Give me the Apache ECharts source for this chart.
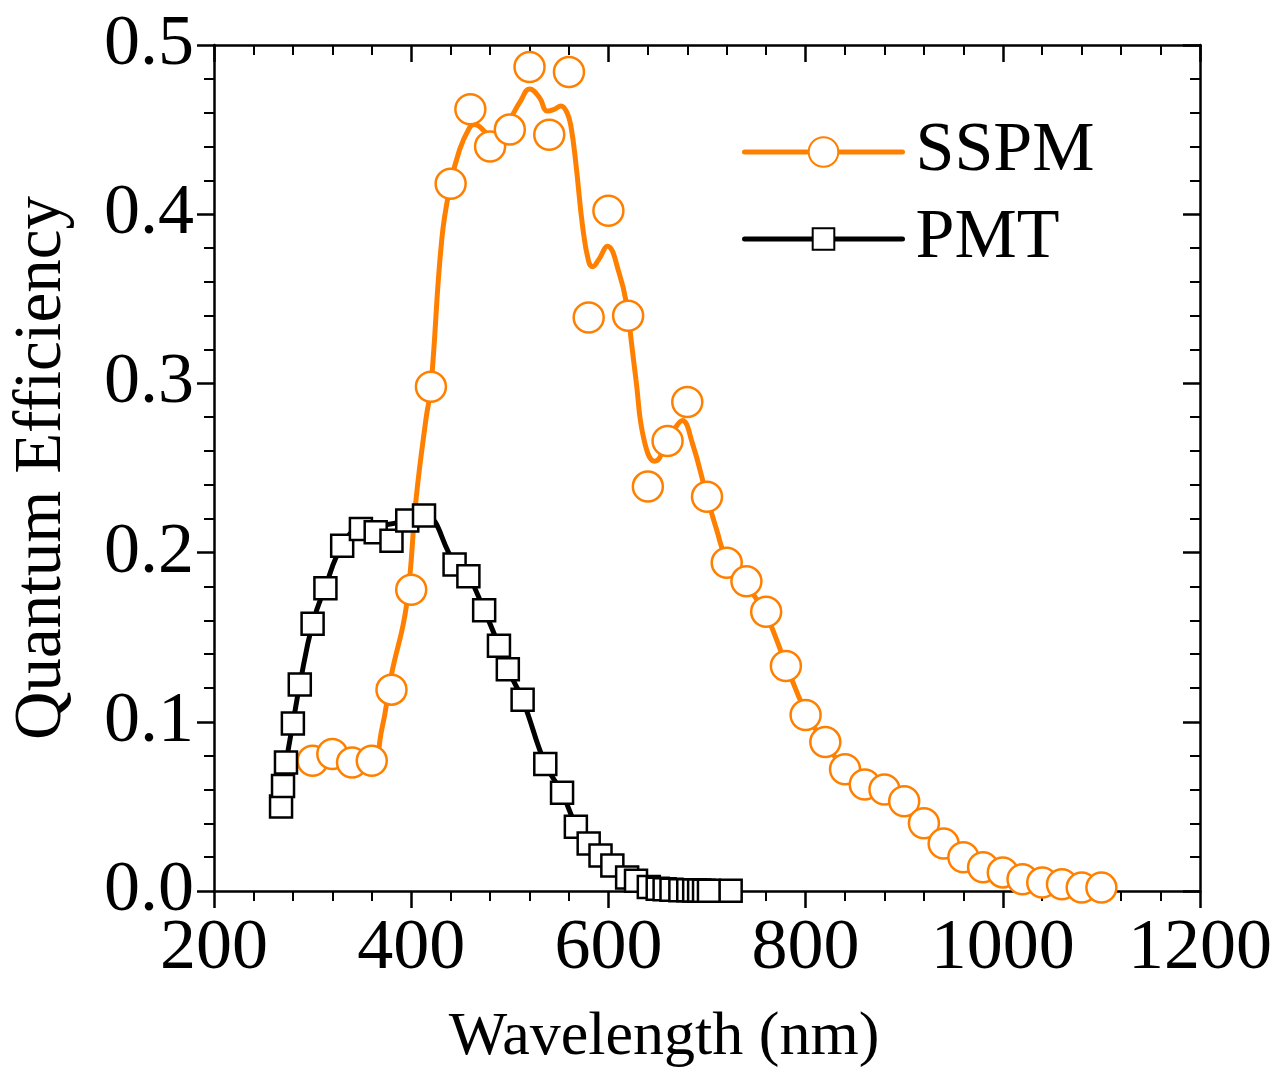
<!DOCTYPE html>
<html>
<head>
<meta charset="utf-8">
<script src="https://cdn.jsdelivr.net/npm/echarts@6/dist/echarts.min.js"></script>
<style>
  html, body { margin: 0; padding: 0; background: #fff; }
  #chart { width: 1276px; height: 1072px; }
</style>
</head>
<body>
<div id="chart"></div>
<script>
// SSPM measured points (circles)
const sspmWl = [300, 320, 340, 360, 380, 400, 420, 440, 460, 480, 500, 520, 540, 560, 580, 600, 620, 640, 660, 680,
  700, 720, 740, 760, 780, 800, 820, 840, 860, 880, 900, 920, 940, 960, 980, 1000, 1020, 1040, 1060, 1080, 1100];
const sspmQe = [0.077, 0.081, 0.076, 0.077, 0.119, 0.178, 0.298, 0.418, 0.462, 0.440, 0.450, 0.487, 0.447, 0.484, 0.339, 0.402, 0.340, 0.239, 0.266, 0.289,
  0.233, 0.194, 0.183, 0.165, 0.133, 0.104, 0.088, 0.072, 0.063, 0.060, 0.053, 0.040, 0.028, 0.020, 0.014, 0.011, 0.007, 0.005, 0.004, 0.002, 0.002];

// SSPM fitted curve (orange line)
const sspmFitWl = [300, 320, 340, 360, 370, 380, 395, 405, 415, 420, 431, 440, 449, 459, 464, 476, 485, 500, 511, 520,
  530, 538, 545, 552, 558, 562, 567, 574, 580, 584, 590, 599, 611, 619, 623, 628, 636, 647, 652, 659, 668, 675, 685,
  700, 710, 720, 740, 760, 780, 800, 820, 840, 860, 880, 900, 920, 940, 960, 980, 1000, 1020, 1040, 1060, 1080, 1100];
const sspmFitQe = [0.078, 0.079, 0.077, 0.077, 0.095, 0.128, 0.168, 0.232, 0.279, 0.298, 0.385, 0.418, 0.438, 0.451, 0.453, 0.448, 0.443, 0.456, 0.467, 0.474,
  0.469, 0.461, 0.462, 0.464, 0.460, 0.452, 0.430, 0.392, 0.372, 0.369, 0.373, 0.381, 0.365, 0.345, 0.326, 0.302, 0.267, 0.254, 0.256, 0.266, 0.274, 0.278, 0.265,
  0.233, 0.213, 0.196, 0.181, 0.163, 0.134, 0.106, 0.087, 0.073, 0.064, 0.058, 0.051, 0.040, 0.029, 0.020, 0.014, 0.010, 0.007, 0.005, 0.004, 0.002, 0.002];

// PMT measured points (squares)
const pmtWl = [268, 270, 273, 280, 287, 300, 313, 330, 349, 364, 380, 396, 413, 444, 458, 474, 489, 498, 513, 536,
  553, 567, 580, 592, 604, 619, 628, 641, 650, 657, 664, 673, 681, 687, 692, 697, 702, 724];
const pmtQe = [0.050, 0.062, 0.076, 0.099, 0.122, 0.158, 0.179, 0.204, 0.214, 0.212, 0.207, 0.219, 0.222, 0.193, 0.186, 0.166, 0.145, 0.131, 0.113, 0.075,
  0.058, 0.038, 0.028, 0.021, 0.015, 0.008, 0.006, 0.0024, 0.0014, 0.001, 0.0007, 0.0005, 0.0004, 0.0003, 0.0003, 0.0002, 0.0002, 0.0002];

// PMT fitted curve (black line)
const pmtFitWl = [268, 273, 280, 287, 300, 313, 330, 349, 370, 396, 413, 444, 458, 474, 489, 498, 513, 536, 553, 567,
  580, 592, 604, 619, 628, 641, 657, 680, 724];
const pmtFitQe = [0.050, 0.075, 0.099, 0.122, 0.158, 0.180, 0.204, 0.215, 0.216, 0.219, 0.222, 0.194, 0.186, 0.166, 0.145, 0.131, 0.113, 0.075, 0.058, 0.039,
  0.028, 0.021, 0.015, 0.008, 0.006, 0.0025, 0.001, 0.0004, 0.0002];

const FONT = "'Liberation Serif', 'Times New Roman', serif";
const ORANGE = '#FF8000';
const zip = (xs, ys) => xs.map((x, i) => [x, ys[i]]);

const chart = echarts.init(document.getElementById('chart'));

const axisLine = { show: true, onZero: false, lineStyle: { color: '#000', width: 2.5 } };
const tick = (inside) => ({ show: true, inside, length: 17, lineStyle: { color: '#000', width: 2.5 } });
const minor = { show: true, splitNumber: 5, length: 10, lineStyle: { color: '#000', width: 2 } };

chart.setOption({
  animation: false,
  backgroundColor: '#fff',
  grid: { left: 214, right: 76, top: 45, bottom: 181, outerBoundsMode: 'none', containLabel: false },
  xAxis: [
    {
      type: 'value', min: 200, max: 1200, interval: 200, position: 'bottom',
      axisLine, axisTick: tick(false), minorTick: minor, splitLine: { show: false },
      axisLabel: { color: '#000', fontFamily: FONT, fontSize: 72, margin: 22, formatter: (v) => String(v) },
      name: 'Wavelength (nm)', nameLocation: 'middle', nameGap: 116,
      nameTextStyle: { color: '#000', fontFamily: FONT, fontSize: 62, padding: [0, 86, 0, 0] }
    },
    {
      type: 'value', min: 200, max: 1200, interval: 200, position: 'top',
      axisLine, axisTick: tick(true), minorTick: minor, splitLine: { show: false },
      axisLabel: { show: false }
    }
  ],
  yAxis: [
    {
      type: 'value', min: 0, max: 0.5, interval: 0.1, position: 'left',
      axisLine, axisTick: tick(false), minorTick: minor, splitLine: { show: false },
      axisLabel: { color: '#000', fontFamily: FONT, fontSize: 72, margin: 20, formatter: (v) => v.toFixed(1) },
      name: 'Quantum Efficiency', nameLocation: 'middle', nameGap: 138,
      nameTextStyle: { color: '#000', fontFamily: FONT, fontSize: 67 }
    },
    {
      type: 'value', min: 0, max: 0.5, interval: 0.1, position: 'right',
      axisLine, axisTick: tick(true), minorTick: minor, splitLine: { show: false },
      axisLabel: { show: false }
    }
  ],
  legend: [
    {
      data: ['SSPM'], left: 742, top: 117, padding: 0, selectedMode: false,
      itemWidth: 158, itemHeight: 37,
      lineStyle: { color: ORANGE, width: 5, cap: 'round' },
      textStyle: { color: '#000', fontFamily: FONT, fontSize: 70, padding: [0, 0, 0, 8] }
    },
    {
      data: ['PMT'], left: 742, top: 204, padding: 0, selectedMode: false,
      itemWidth: 158, itemHeight: 27,
      lineStyle: { color: '#000', width: 5, cap: 'round' },
      textStyle: { color: '#000', fontFamily: FONT, fontSize: 70, padding: [0, 0, 0, 8] }
    }
  ],
  series: [
    {
      name: 'SSPM', type: 'line', data: zip(sspmFitWl, sspmFitQe),
      smooth: 0.45, symbol: 'emptyCircle', showSymbol: false,
      lineStyle: { color: ORANGE, width: 5 }, itemStyle: { color: ORANGE }, z: 2, silent: true
    },
    {
      name: 'SSPM', type: 'scatter', data: zip(sspmWl, sspmQe),
      symbol: 'circle', symbolSize: 30,
      itemStyle: { color: '#fff', borderColor: ORANGE, borderWidth: 2.5, opacity: 1 }, z: 3, silent: true
    },
    {
      name: 'PMT', type: 'line', data: zip(pmtFitWl, pmtFitQe),
      smooth: 0.45, symbol: 'emptyRect', showSymbol: false,
      lineStyle: { color: '#000', width: 5 }, itemStyle: { color: '#000' }, z: 4, silent: true
    },
    {
      name: 'PMT', type: 'scatter', data: zip(pmtWl, pmtQe),
      symbol: 'rect', symbolSize: 22,
      itemStyle: { color: '#fff', borderColor: '#000', borderWidth: 2.5, opacity: 1 }, z: 5, silent: true
    }
  ]
});
</script>
</body>
</html>
